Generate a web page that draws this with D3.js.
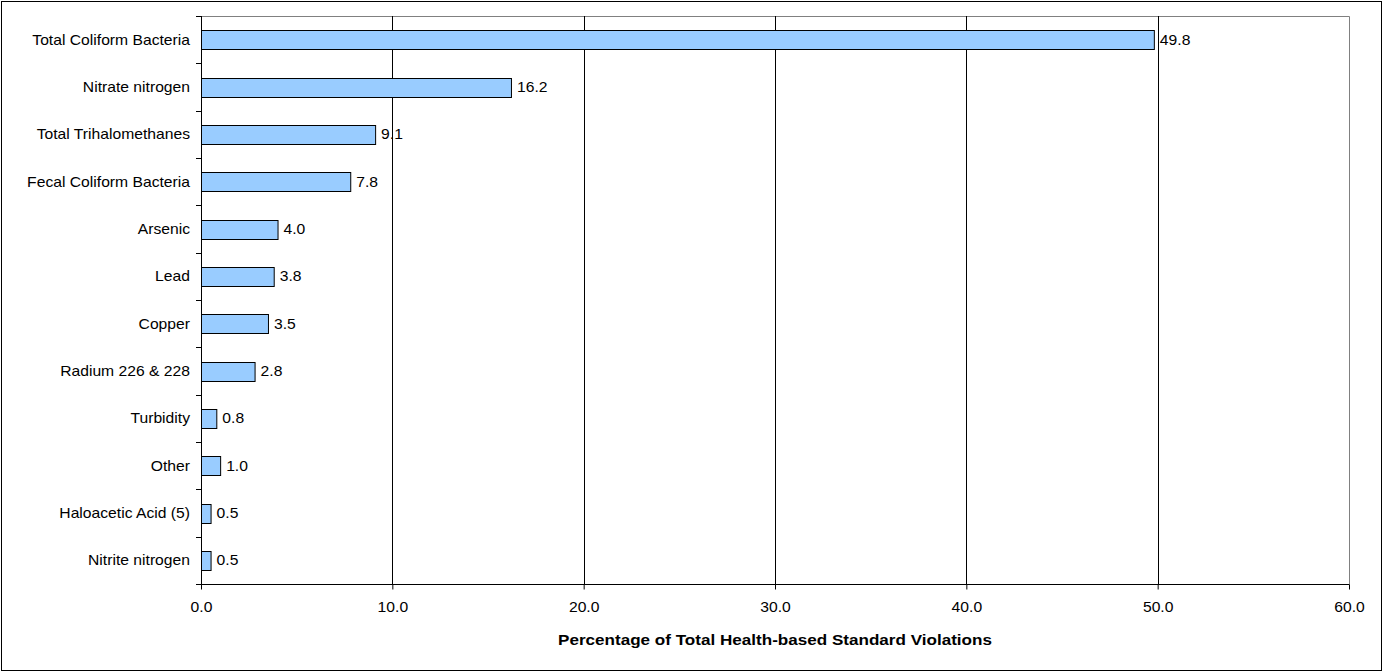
<!DOCTYPE html>
<html><head><meta charset="utf-8">
<script src="https://cdn.jsdelivr.net/npm/d3@7"></script>
<style>body{margin:0;background:#fff;} text{font-family:"Liberation Sans",Arial,sans-serif;}</style>
</head><body>
<svg id="chart" width="1385" height="672"></svg>
<script>
const categories = ["Total Coliform Bacteria","Nitrate nitrogen","Total Trihalomethanes","Fecal Coliform Bacteria","Arsenic","Lead","Copper ","Radium 226 & 228","Turbidity","Other","Haloacetic Acid (5)","Nitrite nitrogen"];
const values = [49.8,16.2,9.1,7.8,4.0,3.8,3.5,2.8,0.8,1.0,0.5,0.5];
const xTicks = [0,10,20,30,40,50,60];
const xTitle = "Percentage of Total Health-based Standard Violations";

const svg = d3.select("#chart");
const W = 1385, H = 672;
const m = {left:201, top:16, right:1349, bottom:584};
const FS = 14, SX = 1.12;

svg.append("rect").attr("x",1.5).attr("y",1.5).attr("width",W-5).attr("height",H-3)
  .attr("fill","#fff").attr("stroke","#000").attr("stroke-width",1);

const x = d3.scaleLinear().domain([0,60]).range([m.left,m.right]);
const y = d3.scaleBand().domain(categories).range([m.top,m.bottom]).paddingInner(0.6).paddingOuter(0.3);

// plot border (top, right)
svg.append("path").attr("d",`M${m.left},${m.top+0.5}H${m.right+0.5}V${m.bottom}`)
  .attr("fill","none").attr("stroke","#808080");

// gridlines
svg.append("g").selectAll("line").data(xTicks.filter(d=>d>0 && d<60)).join("line")
  .attr("x1",d=>Math.round(x(d))+0.5).attr("x2",d=>Math.round(x(d))+0.5)
  .attr("y1",m.top).attr("y2",m.bottom).attr("stroke","#000").attr("stroke-width",1);

// bars
svg.append("g").selectAll("rect").data(values).join("rect")
  .attr("x",m.left+0.5).attr("y",(d,i)=>Math.round(y(categories[i]))+0.5)
  .attr("width",d=>x(d)-m.left).attr("height",Math.round(y.bandwidth()))
  .attr("fill","#99CCFF").attr("stroke","#000").attr("stroke-width",1);

// value labels
svg.append("g").selectAll("text").data(values).join("text")
  .attr("transform",(d,i)=>`translate(${x(d)+6},${y(categories[i])+y.bandwidth()/2}) scale(${SX},1)`)
  .attr("dy","0.35em").attr("font-size",FS).attr("fill","#000")
  .text(d=>d.toFixed(1));

// x axis
const xAxis = d3.axisBottom(x).tickValues(xTicks).tickFormat(d3.format(".1f")).tickSize(5).tickPadding(13);
const gx = svg.append("g").attr("transform",`translate(0,${m.bottom+0.5})`).call(xAxis);
gx.select(".domain").attr("d",`M${m.left-5},0H${m.right+0.5}`).attr("stroke","#000");
gx.selectAll(".tick line").attr("stroke","#000");
gx.selectAll("text").attr("font-size",FS).attr("fill","#000").attr("font-family","Liberation Sans, Arial, sans-serif")
  .attr("transform",`scale(${SX},1)`);

// y axis: ticks at band boundaries
const yAxisG = svg.append("g");
yAxisG.append("line").attr("x1",m.left+0.5).attr("x2",m.left+0.5).attr("y1",m.top).attr("y2",m.bottom+5).attr("stroke","#000");
const bounds = d3.range(categories.length+1).map(i=>m.top + i*(m.bottom-m.top)/categories.length);
yAxisG.selectAll("line.t").data(bounds).join("line").attr("class","t")
  .attr("x1",m.left-5).attr("x2",m.left).attr("y1",d=>Math.round(d)+0.5).attr("y2",d=>Math.round(d)+0.5).attr("stroke","#000");
yAxisG.selectAll("text").data(categories).join("text")
  .attr("transform",d=>`translate(${m.left-11},${y(d)+y.bandwidth()/2}) scale(${SX},1)`).attr("dy","0.35em")
  .attr("text-anchor","end").attr("font-size",FS).attr("fill","#000").text(d=>d);

// title
svg.append("text").attr("transform",`translate(${(m.left+m.right)/2},645) scale(1.22,1)`).attr("text-anchor","middle")
  .attr("font-size",FS).attr("font-weight","bold").text(xTitle);
</script>
</body></html>
